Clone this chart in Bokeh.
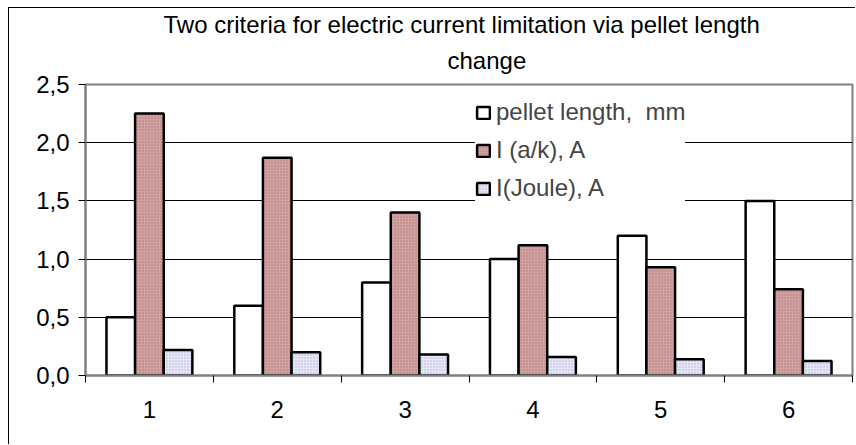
from bokeh.plotting import figure
from bokeh.models import (ColumnDataSource, FixedTicker, CustomJSTickFormatter, Range1d,
                          Legend, LegendItem, Title)
from bokeh.embed import file_html
from bokeh.resources import INLINE

# ---- data ----
categories = [1, 2, 3, 4, 5, 6]
pellet_length = [0.50, 0.60, 0.80, 1.00, 1.20, 1.50]
i_ak = [2.25, 1.87, 1.40, 1.12, 0.93, 0.74]
i_joule = [0.22, 0.20, 0.18, 0.16, 0.14, 0.125]
series_names = ["pellet length,  mm", "I (a/k), A", "I(Joule), A"]
y_ticks = [0.0, 0.5, 1.0, 1.5, 2.0, 2.5]
title_line1 = "Two criteria for electric current limitation via pellet length"
title_line2 = "change"

FONT = "Liberation Sans"
BAR_W = 0.224

p = figure(width=847, height=437, output_backend="svg", toolbar_location=None,
           x_range=Range1d(0.5, 6.5), y_range=Range1d(0, 2.5),
           min_border_left=76, min_border_right=4, min_border_top=76, min_border_bottom=70)
p.margin = (7, 0, 0, 8)
p.styles = {"border-left": "1px solid black", "border-top": "1px solid black"}
p.background_fill_color = "white"
p.border_fill_color = "white"
p.outline_line_color = "#808080"
p.outline_line_width = 2

src = ColumnDataSource(dict(
    x1=[c - BAR_W for c in categories], x2=list(categories), x3=[c + BAR_W for c in categories],
    a=pellet_length, b=i_ak, c=i_joule))

r1 = p.vbar(x="x1", top="a", width=BAR_W, source=src, fill_color="white",
            line_color="black", line_width=2.5)
r2 = p.vbar(x="x2", top="b", width=BAR_W, source=src, fill_color="#D2A2A2",
            hatch_pattern="dot", hatch_color="#B07A7A", hatch_scale=3, hatch_weight=1,
            line_color="black", line_width=2.5)
r3 = p.vbar(x="x3", top="c", width=BAR_W, source=src, fill_color="#E6E6F6",
            hatch_pattern="dot", hatch_color="#B4B4DA", hatch_scale=3, hatch_weight=1,
            line_color="black", line_width=2.5)

# grid
p.xgrid.visible = False
p.ygrid.grid_line_color = "black"
p.ygrid.grid_line_width = 1

# y axis
p.yaxis.ticker = FixedTicker(ticks=y_ticks, minor_ticks=[])
p.yaxis.formatter = CustomJSTickFormatter(code="return tick.toFixed(1).replace('.', ',');")
p.yaxis.major_tick_out = 7
p.yaxis.major_tick_in = 0
p.yaxis.major_tick_line_color = "black"
p.yaxis.axis_line_color = "#808080"
p.yaxis.axis_line_width = 2
p.yaxis.major_label_text_font = FONT
p.yaxis.major_label_text_font_size = "24px"
p.yaxis.major_label_text_color = "black"
p.yaxis.major_label_standoff = 9

# x axis
p.xaxis.ticker = FixedTicker(ticks=categories, minor_ticks=[c - 0.5 for c in categories] + [categories[-1] + 0.5])
p.xaxis.major_tick_out = 0
p.xaxis.major_tick_in = 0
p.xaxis.minor_tick_out = 7
p.xaxis.minor_tick_in = 0
p.xaxis.minor_tick_line_color = "black"
p.xaxis.axis_line_color = "#808080"
p.xaxis.axis_line_width = 2
p.xaxis.major_label_text_font = FONT
p.xaxis.major_label_text_font_size = "24px"
p.xaxis.major_label_text_color = "black"
p.xaxis.major_label_standoff = 18

# legend
legend = Legend(items=[LegendItem(label=series_names[0], renderers=[r1]),
                       LegendItem(label=series_names[1], renderers=[r2]),
                       LegendItem(label=series_names[2], renderers=[r3])],
                location=(390, 173), padding=8, margin=0, spacing=10,
                glyph_width=16, glyph_height=15, label_standoff=5, label_height=26,
                label_text_font=FONT, label_text_font_size="24px",
                border_line_color=None, background_fill_color="white", background_fill_alpha=1)
p.add_layout(legend, "center")

# title (two lines) - added nearest-first
t2 = Title(text=title_line2, align="left", offset=362, standoff=21,
           text_font=FONT, text_font_size="24px", text_font_style="normal", text_color="black")
t1 = Title(text=title_line1, align="left", offset=78, standoff=-6,
           text_font=FONT, text_font_size="24px", text_font_style="normal", text_color="black")
p.add_layout(t2, "above")
p.add_layout(t1, "above")

open("out.html", "w").write(file_html(p, INLINE))
